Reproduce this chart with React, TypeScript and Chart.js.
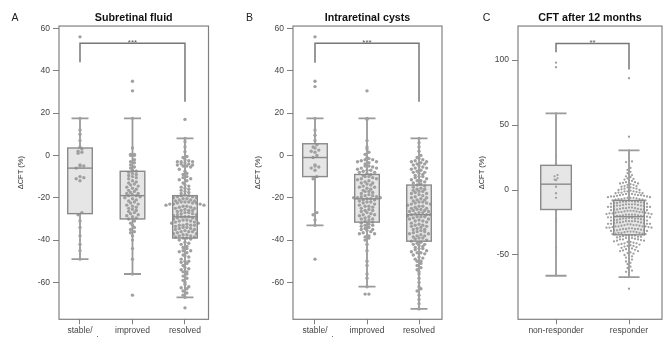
import React, { useEffect, useRef } from 'react';
import { Chart, registerables } from 'chart.js';
Chart.register(...registerables);
Chart.defaults.font.family = '"Liberation Sans", Arial, Helvetica, sans-serif';

// ---------------- data ----------------
const yTicksAB = [-60, -40, -20, 0, 20, 40, 60];
const yTicksC = [-50, 0, 50, 100];
const groupsAB: (string | string[])[] = [['stable/', 'worsened'], 'improved', 'resolved'];
const groupsC: (string | string[])[] = ['non-responder', 'responder'];
const titleA = 'Subretinal fluid';
const titleB = 'Intraretinal cysts';
const titleC = 'CFT after 12 months';
const axisTitle = 'ΔCFT (%)';

// Panel A – subretinal fluid
const srfStable = [56, 17.5, 12, 10, 7, 4, 3, 2, 1.5, 1, -4.5, -5, -5, -6, -10, -10.5, -11, -12, -27, -28, -31, -34, -38, -42, -45, -49];
const srfImproved = [35, 30.5, 17.5, 3.5, 0.5, 0.5, 0, 0, -2, -3, -3.5, -4.5, -5.5, -6, -7, -7.5, -8, -8.5, -9, -9.5, -10, -10.5, -11, -12, -12.5, -13, -13.5, -14, -14.5, -15, -15.5, -16, -16.5, -17, -17.5, -18, -18, -18.5, -19, -19, -19.5, -20, -20.5, -21, -21.5, -22, -22.5, -23, -23.5, -24, -24.5, -25, -25.5, -26, -26.5, -27, -27.5, -28, -28.5, -29, -29.5, -30, -31, -32, -33, -34, -35, -36, -36.5, -38, -40, -44, -49, -56, -66];
const srfResolved = [17, 8, 6.5, 4, 1.7, -0.5, -1, -2, -2.5, -3, -3, -3, -3.5, -4, -4, -4.5, -4.5, -5, -5, -5.5, -6.5, -7.5, -8.5, -9, -10, -10.5, -11, -11.5, -12, -13, -14, -14.5, -15, -15.5, -16, -16.5, -17, -17.5, -18, -18.5, -19,
  -19, -19.5, -19.5, -20, -20, -20.5, -20.5, -21, -21, -21.5, -21.5, -22, -22, -22, -22.5, -22.5, -22.5, -23, -23, -23, -23.5, -23.5, -24, -24, -24.5, -24.5, -25, -25, -25.5, -26, -26, -26, -26.5, -27, -27, -27.5, -27.5, -28, -28, -28.5, -29, -29, -29, -29.5, -29.5, -30, -30, -30.5, -30.5, -31, -31, -31.5, -31.5, -32, -32, -32.5, -33, -33, -33, -33, -33.5, -34, -34, -34.5, -34.5, -35, -35, -35.5, -36, -36, -36, -36.5, -37, -37, -37.5, -37.5, -38, -38, -38.5, -38.5, -39, -39,
  -39.5, -40, -41, -41.5, -42, -43, -43.5, -44, -45, -45, -45.5, -46, -47, -47.5, -48, -49, -50, -50, -50.5, -51, -52, -53, -53.5, -54, -55, -55, -56, -57, -58, -59, -60, -61, -62, -62.5, -63, -64, -65, -66, -67, -72];
// box stats: [lower whisker, Q1, median, Q3, upper whisker]
const srfBoxes = [[-49, -27.5, -6, 3.5, 17.5], [-56, -30, -19, -7.5, 17.5], [-67, -39, -29, -19, 8]];
// bracket: [from group, to group, top, left end, right end]
const srfBracket = [1, 3, 53, 44, 25.4];
const srfStars = '***';

// Panel B – intraretinal cysts
const irfStable = [56, 35, 32.5, 17.5, 12, 9.5, 7, 5, 4, 3.5, 2.5, 2, 1.5, 0, -1, -4.5, -5, -5.5, -6, -7, -10, -11, -27, -28, -30.5, -33, -49];
const irfImproved = [30.5, 17.5, 17, 7, 4, 3, 1.5, 0.5, -1, -1.5, -2, -2, -2.5, -3, -3, -3.5, -4, -5, -5, -5.5, -6, -6, -6.5, -7, -7, -7.5, -8, -8, -8.5, -9,
  -9.5, -10, -10, -10.5, -11, -11, -11.5, -12, -12.5, -13, -13, -13.5, -14, -14.5, -15, -15, -15.5, -16, -16.5, -17, -17, -17.5, -18, -18.5, -19, -19, -19.5, -19.5, -20, -20, -20, -20.5, -20.5, -21, -21, -21.5, -22, -22, -22.5, -23, -23.5, -24, -24, -24.5, -25, -25.5, -26, -26, -26.5, -27, -27.5, -28, -28, -28.5, -29, -29.5, -30, -30, -30.5, -31, -31.5,
  -32, -32.5, -33, -33, -33.5, -34, -34.5, -35, -35, -35.5, -36, -36.5, -37, -37, -38, -38.5, -39, -40, -42, -45, -50, -52, -56, -58, -62, -65.5, -65.5];
const irfResolved = [8, 6, 4, 2, 0, -1, -1.5, -2, -2.5, -3, -3, -3.5, -4, -4, -4.5, -5, -5.5, -6, -6, -6.5, -7, -7.5, -8, -8, -8.5, -9, -9.5, -10, -10, -10.5, -11, -11.5, -12, -12, -12.5, -13, -13.5, -14,
  -14.5, -15, -15.5, -16, -16, -16.5, -17, -17, -17.5, -18, -18, -18.5, -19, -19.5, -20, -20, -20.5, -21, -21, -21.5, -22, -22, -22.5, -22.5, -23, -23, -23.5, -24, -24, -24.5, -25, -25, -25.5, -25.5, -26, -26, -26.5, -26.5, -27, -27, -27.5, -28, -28, -28, -28.5, -29, -29, -29, -29.5, -30, -30, -30.5, -31, -31, -31.5, -32, -32.5, -33, -33, -33.5, -33.5, -34, -34.5, -35, -35, -35.5, -36, -36, -36.5, -37, -37, -37.5, -38, -38, -38.5, -39, -39, -39.5, -40, -40.5,
  -41, -41.5, -42, -42, -42.5, -43, -43.5, -44, -44, -44.5, -45, -45.5, -46, -46, -46.5, -47, -48, -48.5, -49, -50, -50, -51, -52, -53, -54, -55, -56, -58, -60, -62, -63, -64, -66, -68, -70, -72.5];
const irfBoxes = [[-33, -10, -1, 5.5, 17.5], [-62, -31.5, -20.5, -9, 17.5], [-72.5, -40.5, -28, -14, 8]];
const irfBracket = [1, 3, 53, 43.8, 25.4];
const irfStars = '***';

// Panel C – CFT after 12 months
const cftNonResponder = [98, 94.5, 59, 26, 20.5, 11.5, 10.5, 9, 8, 7.5, 2.5, -2.5, -6, -15.5, -16, -22, -24, -44.5, -66];
const cftResponder = [86, 41, 30.5, 28, 25, 23, 22, 21.5, 19, 17, 15.5, 14, 13, 12, 11.5, 10.5, 10, 9, 8.5, 8, 7.5, 7, 6, 6, 5.5, 5, 5, 4.5, 4, 4, 3, 3, 2.5, 2, 2, 1.5, 1, 1, 0.5, 0, 0, -0.5, -1, -1, -1, -1.5, -2, -2, -2, -2.5, -2.5, -3, -3, -3, -3.5, -3.5, -4, -4, -4, -4.5, -4.5, -5, -5, -5, -5.5, -5.5, -6, -6, -6, -6.5, -6.5, -7, -7, -7, -7.5, -7.5, -8, -8,
  -8.5, -8.5, -9, -9, -9, -9, -9.5, -9.5, -10, -10, -10, -10.5, -10.5, -11, -11, -11, -11, -11.5, -11.5, -12, -12, -12, -12.5, -12.5, -13, -13, -13, -13, -13.5, -13.5, -14, -14, -14, -14.5, -14.5, -15, -15, -15, -15, -15.5, -15.5, -16, -16, -16, -16.5, -16.5, -17, -17, -17, -17, -17.5, -17.5, -18, -18, -18, -18.5, -18.5, -19, -19, -19, -19, -19.5, -19.5, -20, -20, -20, -20, -20.5, -20.5, -21, -21, -21, -21.5, -21.5, -22, -22, -22, -22, -22.5, -22.5, -23, -23, -23, -23.5, -23.5, -24, -24, -24, -24, -24.5, -24.5, -25, -25, -25, -25.5, -25.5, -26, -26, -26, -26, -26.5, -26.5, -27, -27, -27, -27.5, -27.5, -28, -28, -28, -28, -28.5, -28.5, -29, -29, -29, -29.5, -29.5, -30, -30, -30, -30, -30.5, -30.5, -31, -31, -31, -31.5, -31.5, -32, -32, -32, -32.5, -32.5, -33, -33, -33, -33.5, -33.5, -34, -34,
  -34.5, -35, -35, -35, -35.5, -36, -36, -36, -36.5, -37, -37, -37, -37.5, -38, -38, -38, -38.5, -39, -39, -39.5, -40, -40, -40.5, -41, -41, -41.5, -42, -42, -42.5, -43, -43, -43.5, -44, -44.5, -45, -45, -45.5, -46, -46.5, -47, -47, -48, -48.5, -49, -50, -50.5, -51, -52, -53, -53.5, -55, -56, -57, -59, -60, -61, -62, -63, -64, -66, -76];
const cftBoxes = [[-66, -15, 4.5, 19, 59], [-67, -34.5, -20.5, -8, 30.5]];
const cftBracket = [1, 2, 112.8, 106, 92.8];
const cftStars = '**';

// ---------------- panel layout / style ----------------
type PanelCfg = {
  letter: string; letterX: number; title: string; cats: (string | string[])[]; series: number[][];
  boxes: number[][]; bracket: number[]; stars: string; yTicks: number[];
  yMin: number; yMax: number; xMin: number; xMax: number;
  left: number; width: number; padLeft: number; padRight: number; axisWidth: number;
  boxHalf: number; capHalf: number; radius: number; spacing: number; binH: number;
};

const panels: PanelCfg[] = [
  { letter: 'A', letterX: 15, title: titleA, cats: groupsAB, series: [srfStable, srfImproved, srfResolved], boxes: srfBoxes, bracket: srfBracket, stars: srfStars, yTicks: yTicksAB,
    yMin: -77.4, yMax: 61.1, xMin: 0.6, xMax: 3.448, left: 0, width: 214, padLeft: 16.5, padRight: 5.5, axisWidth: 42.5, boxHalf: 12.3, capHalf: 8.5, radius: 1.7, spacing: 3.8, binH: 3.6 },
  { letter: 'B', letterX: 27.5, title: titleB, cats: groupsAB, series: [irfStable, irfImproved, irfResolved], boxes: irfBoxes, bracket: irfBracket, stars: irfStars, yTicks: yTicksAB,
    yMin: -77.4, yMax: 61.1, xMin: 0.577, xMax: 3.442, left: 222, width: 224, padLeft: 31.5, padRight: 4, axisWidth: 39.5, boxHalf: 12.3, capHalf: 8.5, radius: 1.7, spacing: 3.8, binH: 3.6 },
  { letter: 'C', letterX: 40.5, title: titleC, cats: groupsC, series: [cftNonResponder, cftResponder], boxes: cftBoxes, bracket: cftBracket, stars: cftStars, yTicks: yTicksC,
    yMin: -99.5, yMax: 126.2, xMin: 0.479, xMax: 2.452, left: 446, width: 218, padLeft: 31.5, padRight: 2, axisWidth: 40.5, boxHalf: 15.3, capHalf: 10.5, radius: 1.15, spacing: 3.0, binH: 3.4 },
];

const H = 337;
const AREA_BOTTOM = 319.3;

// beeswarm layout (binned rows, centre-out placement) – returns pixel x offsets
function swarm(ys: number[], spacing: number, binH: number): number[] {
  const out = new Array(ys.length).fill(0);
  const bins = new Map<number, number[]>();
  ys.forEach((y, i) => {
    const b = Math.floor(y / binH);
    if (!bins.has(b)) bins.set(b, []);
    bins.get(b)!.push(i);
  });
  bins.forEach((idx) => {
    idx.sort((a, b) => ys[a] - ys[b]);
    const n = idx.length;
    const pos = idx.map((_, j) => (j - (n - 1) / 2) * spacing);
    pos.sort((a, b) => Math.abs(a) - Math.abs(b) || b - a);
    idx.forEach((k, j) => { out[k] = pos[j]; });
  });
  return out;
}

function Panel({ cfg }: { cfg: PanelCfg }) {
  const ref = useRef<HTMLCanvasElement>(null);
  useEffect(() => {
    const canvas = ref.current!;
    const boxPlugin = {
      id: 'boxes',
      beforeDatasetsDraw(chart: any) {
        const { ctx, scales: { x, y } } = chart;
        ctx.save();
        cfg.boxes.forEach((b, i) => {
          const cx = x.getPixelForValue(i + 1);
          const [lo, q1, , q3, hi] = b.map((v) => y.getPixelForValue(v));
          ctx.strokeStyle = '#9a9a9a';
          ctx.lineWidth = 1.8;
          ctx.beginPath();
          ctx.moveTo(cx, hi); ctx.lineTo(cx, lo);
          ctx.moveTo(cx - cfg.capHalf, hi); ctx.lineTo(cx + cfg.capHalf, hi);
          ctx.moveTo(cx - cfg.capHalf, lo); ctx.lineTo(cx + cfg.capHalf, lo);
          ctx.stroke();
          ctx.fillStyle = '#e6e6e6';
          ctx.fillRect(cx - cfg.boxHalf, q3, cfg.boxHalf * 2, q1 - q3);
        });
        ctx.restore();
      },
      afterDatasetsDraw(chart: any) {
        const { ctx, scales: { x, y } } = chart;
        ctx.save();
        cfg.boxes.forEach((b, i) => {
          const cx = x.getPixelForValue(i + 1);
          const [, q1, med, q3] = b.map((v) => y.getPixelForValue(v));
          ctx.strokeStyle = '#8a8a8a';
          ctx.lineWidth = 1.4;
          ctx.strokeRect(cx - cfg.boxHalf, q3, cfg.boxHalf * 2, q1 - q3);
          ctx.beginPath();
          ctx.moveTo(cx - cfg.boxHalf, med); ctx.lineTo(cx + cfg.boxHalf, med);
          ctx.stroke();
        });
        const [g1, g2, top, lEnd, rEnd] = cfg.bracket;
        const x1 = x.getPixelForValue(g1), x2 = x.getPixelForValue(g2);
        const yt = y.getPixelForValue(top);
        ctx.strokeStyle = '#777';
        ctx.lineWidth = 1.5;
        ctx.beginPath();
        ctx.moveTo(x1, y.getPixelForValue(lEnd));
        ctx.lineTo(x1, yt); ctx.lineTo(x2, yt);
        ctx.lineTo(x2, y.getPixelForValue(rEnd));
        ctx.stroke();
        ctx.fillStyle = '#555';
        ctx.font = '8px "Liberation Sans", Arial, sans-serif';
        ctx.textAlign = 'center';
        ctx.textBaseline = 'alphabetic';
        ctx.fillText(cfg.stars, (x1 + x2) / 2, yt + 1.8);
        ctx.restore();
      },
      afterDraw(chart: any) {
        const { ctx, chartArea: a } = chart;
        ctx.save();
        ctx.strokeStyle = '#808080';
        ctx.lineWidth = 1.2;
        ctx.strokeRect(a.left, a.top, a.right - a.left, a.bottom - a.top);
        ctx.fillStyle = '#222';
        ctx.font = '10.5px "Liberation Sans", Arial, sans-serif';
        ctx.textAlign = 'center';
        ctx.textBaseline = 'middle';
        ctx.fillText(cfg.letter, cfg.letterX, 18);
        ctx.restore();
      },
    };

    const datasets = cfg.series.map((vals, i) => ({
      data: vals.map((v) => ({ x: i + 1, y: v })),
      backgroundColor: '#a0a0a0',
      borderWidth: 0,
      pointRadius: cfg.radius,
      pointHoverRadius: cfg.radius,
    }));

    const chart = new Chart(canvas, {
      type: 'scatter',
      data: { datasets },
      options: {
        animation: false,
        responsive: false,
        devicePixelRatio: 1,
        events: [],
        layout: { padding: { left: cfg.padLeft, right: cfg.padRight, top: 0, bottom: 0 } },
        plugins: {
          legend: { display: false },
          tooltip: { enabled: false },
          title: {
            display: true, text: cfg.title, fullSize: false, color: '#111',
            font: { size: 10.7, weight: 'bold' }, padding: { top: 11.6, bottom: 1.6 },
          },
        },
        scales: {
          x: {
            type: 'linear', min: cfg.xMin, max: cfg.xMax,
            afterBuildTicks: (s: any) => { s.ticks = cfg.cats.map((_, i) => ({ value: i + 1 })); },
            afterFit: (s: any) => { s.height = H - AREA_BOTTOM; },
            grid: { drawOnChartArea: false, drawTicks: true, tickLength: 5, color: '#808080', lineWidth: 1 },
            border: { display: false },
            ticks: {
              autoSkip: false, maxRotation: 0, minRotation: 0, padding: 1, color: '#444',
              font: { size: 8.5 },
              callback: (v: any) => cfg.cats[Math.round(v) - 1] as any,
            },
          },
          y: {
            type: 'linear', min: cfg.yMin, max: cfg.yMax,
            afterBuildTicks: (s: any) => { s.ticks = cfg.yTicks.map((v) => ({ value: v })); },
            afterFit: (s: any) => { s.width = cfg.axisWidth; },
            grid: { drawOnChartArea: false, drawTicks: true, tickLength: 6, color: '#808080', lineWidth: 1 },
            border: { display: false },
            ticks: { padding: 3, color: '#444', font: { size: 8.5 }, callback: (v: any) => String(v) },
            title: { display: true, text: axisTitle, color: '#333', font: { size: 7.5 }, padding: { top: 0, bottom: 0 } },
          },
        },
      },
      plugins: [boxPlugin],
    } as any);

    const xs: any = chart.scales.x;
    const ysc: any = chart.scales.y;
    const pxPerUnit = xs.getPixelForValue(2) - xs.getPixelForValue(1);
    cfg.series.forEach((vals, i) => {
      const off = swarm(vals.map((v) => ysc.getPixelForValue(v)), cfg.spacing, cfg.binH);
      (chart.data.datasets[i] as any).data = vals.map((v, k) => ({ x: i + 1 + off[k] / pxPerUnit, y: v }));
    });
    chart.update('none');
    return () => chart.destroy();
  }, [cfg]);
  return <canvas ref={ref} width={cfg.width} height={H} style={{ position: 'absolute', left: cfg.left, top: 0, width: cfg.width, height: H }} />;
}

export default function App() {
  return (
    <div style={{ position: 'absolute', left: 0, top: 0, width: 664, height: H, background: '#fff', overflow: 'hidden' }}>
      {panels.map((p) => <Panel key={p.letter} cfg={p} />)}
    </div>
  );
}
